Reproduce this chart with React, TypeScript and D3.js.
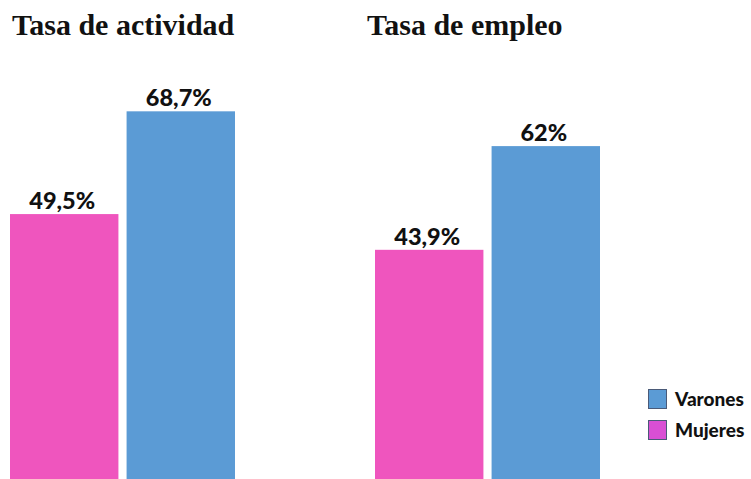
import React from "react";
import * as d3 from "d3";

const panels = ["Tasa de actividad", "Tasa de empleo"];
const series = ["Mujeres", "Varones"];
const actividad = [49.5, 68.7];
const empleo = [43.9, 62];
const valueLabels = [["49,5%", "68,7%"], ["43,9%", "62%"]];
const legendOrder = ["Varones", "Mujeres"];

const W = 751;
const H = 479;
const colors: Record<string, string> = { Mujeres: "#EF55BE", Varones: "#5B9BD5" };
const legendColors: Record<string, string> = { Mujeres: "#D94FD4", Varones: "#5B9BD5" };

export default function App() {
  const data = [actividad, empleo];
  const panelX = [d3.scaleBand().domain(series).range([10, 235]).paddingInner(0.07),
                  d3.scaleBand().domain(series).range([375, 600]).paddingInner(0.07)];
  const yScales = [d3.scaleLinear().domain([0, 89.5]).range([H, 0]),
                   d3.scaleLinear().domain([3.9, 87.5]).range([H, 0])];
  const titleX = [12, 367];
  return (
    <svg width={W} height={H} style={{ position: "absolute", left: 0, top: 0, background: "#fff" }}>
      {panels.map((p, pi) => {
        const x = panelX[pi];
        const y = yScales[pi];
        return (
          <g key={p}>
            <text x={titleX[pi]} y={35} fontFamily="'Liberation Serif', serif" fontWeight="bold" fontSize={30} fill="#111">{p}</text>
            {series.map((s, si) => {
              const v = data[pi][si];
              const bx = x(s)!;
              const bw = x.bandwidth();
              return (
                <g key={s}>
                  <rect x={bx} y={y(v)} width={bw} height={H - y(v)} fill={colors[s]} />
                  <text x={bx + bw / 2 - 2} y={y(v) - 5} textAnchor="middle" fontFamily="Lato, sans-serif" fontWeight="900" fontSize={23.5} fill="#111">{valueLabels[pi][si]}</text>
                </g>
              );
            })}
          </g>
        );
      })}
      {legendOrder.map((s, i) => (
        <g key={s} transform={`translate(648,${389 + i * 31})`}>
          <rect x={0.5} y={0.5} width={18} height={19} fill={legendColors[s]} stroke="#4a5a78" strokeWidth={1} />
          <text x={27} y={17} fontFamily="Lato, sans-serif" fontWeight="900" fontSize={19} fill="#111">{s}</text>
        </g>
      ))}
    </svg>
  );
}
